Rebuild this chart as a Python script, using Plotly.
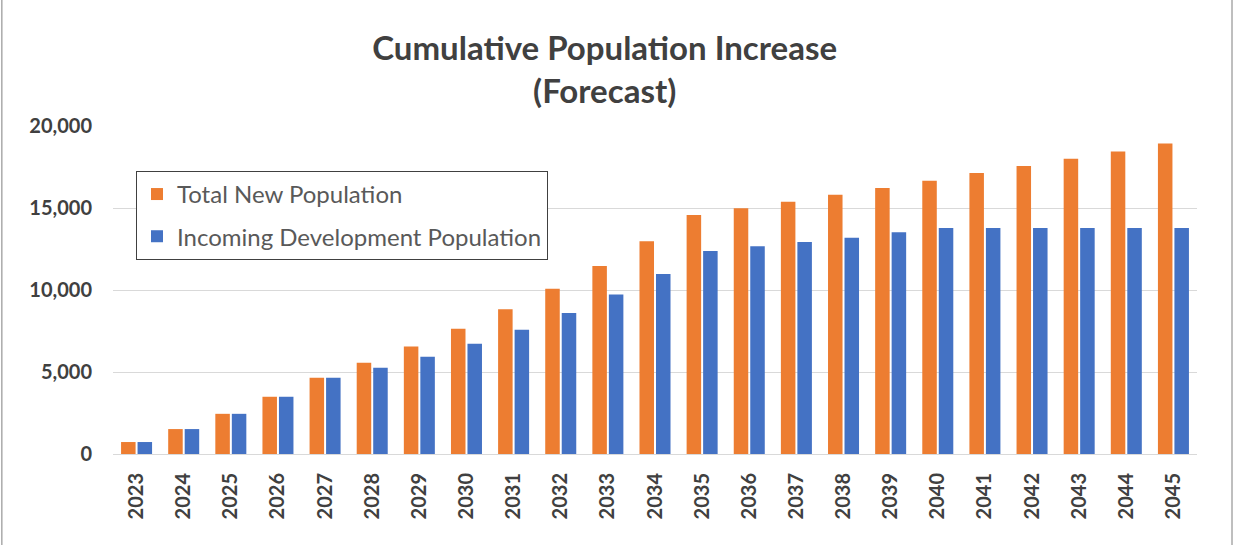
import plotly.graph_objects as go

years = [str(y) for y in range(2023, 2046)]
total_new = [730, 1520, 2450, 3490, 4650, 5560, 6550, 7630, 8830, 10070,
             11470, 12970, 14570, 14980, 15380, 15810, 16220, 16660, 17130,
             17560, 18000, 18450, 18940]
incoming_dev = [730, 1520, 2450, 3490, 4650, 5260, 5930, 6720, 7570, 8600,
                9720, 10980, 12380, 12670, 12930, 13190, 13520, 13780, 13780,
                13780, 13780, 13780, 13780]

ORANGE = "#ED7D31"
BLUE = "#4472C4"
TEXT = "#404040"
FONT = "Lato, Open Sans, sans-serif"

fig = go.Figure()
fig.add_trace(go.Bar(x=years, y=total_new, name="Total New Population",
                     legendgroup="total",
                     marker=dict(color=ORANGE, line=dict(width=0))))
fig.add_trace(go.Bar(x=years, y=incoming_dev, name="Incoming Development Population",
                     legendgroup="incoming",
                     marker=dict(color=BLUE, line=dict(width=0))))

fig.update_layout(
    width=1234, height=545,
    margin=dict(l=113, r=37, t=126, b=91),
    paper_bgcolor="white", plot_bgcolor="white",
    barmode="group", bargap=0.3, bargroupgap=0.12,
    font=dict(family=FONT, color=TEXT),
    title=dict(text="<b>Cumulative Population Increase<br>(Forecast)</b>",
               x=0.49, xanchor="center", y=0.889, yanchor="middle",
               font=dict(size=33, color=TEXT, family=FONT)),
    legend=dict(x=0.0212, y=0.863, xanchor="left", yanchor="top",
                bgcolor="white", bordercolor=TEXT, borderwidth=1,
                font=dict(size=24, color="#595959", family=FONT),
                itemsizing="constant", tracegroupgap=8),
    showlegend=True,
)
fig.update_yaxes(range=[0, 20000], tickvals=[0, 5000, 10000, 15000, 20000],
                 tickformat=",", showgrid=True, gridcolor="#D9D9D9", gridwidth=1,
                 zeroline=False, showline=False,
                 tickfont=dict(size=20, color=TEXT, family=FONT, weight="bold"),
                 ticklabelstandoff=20)
fig.update_xaxes(type="category", tickangle=-90, showline=True, linecolor="#D9D9D9",
                 linewidth=1,
                 tickfont=dict(size=20, color=TEXT, family=FONT, weight="bold"),
                 ticklabelstandoff=10)

# outer frame edges
fig.add_shape(type="line", xref="paper", yref="paper", x0=-0.1025, x1=-0.1025,
              y0=-0.3, y1=1.4, line=dict(color="#7F7F7F", width=1))
fig.add_shape(type="line", xref="paper", yref="paper", x0=1.0323, x1=1.0323,
              y0=-0.3, y1=1.4, line=dict(color="#7F7F7F", width=1))

fig.write_html("out.html")
